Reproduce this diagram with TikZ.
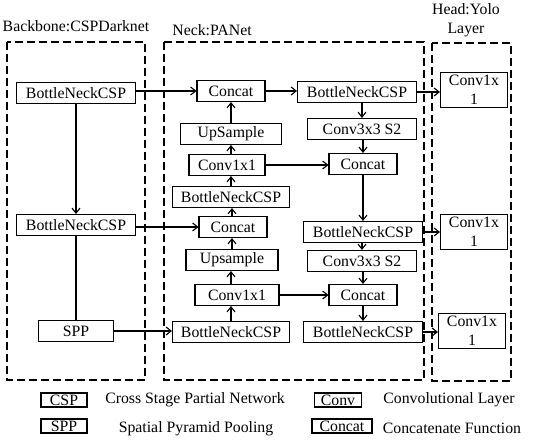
\documentclass[tikz,border=0pt]{standalone}
\usepackage{fontspec}
\setmainfont{Liberation Serif}
\usetikzlibrary{arrows.meta}
\def\blkh{21}
\def\lgh{14}

\begin{document}
\begin{tikzpicture}[x=1pt, y=-1pt, line width=1.1pt,
		font=\fontsize{15.8}{19}\selectfont,
		blk/.style={draw, inner sep=0pt, minimum height=\blkh pt},
		hd/.style={draw, inner sep=0pt, minimum width=67pt, minimum height=35pt, align=center},
		lg/.style={draw, inner sep=0pt, minimum height=\lgh pt},
		frame/.style={dash pattern=on 8pt off 4pt},
		arr/.style={-{Straight Barb[length=5pt,width=8pt]}}]
	\useasboundingbox (0,0) rectangle (550,446);
	% dashed frames and titles
	\draw[frame] (7,42) rectangle (145,380);
	\draw[frame] (164,42) rectangle (424,380);
	\draw[frame] (432,43) rectangle (511,381);
	\node (tb) at (76,26) {Backbone:CSPDarknet};
	\node (tn) at (212,30) {Neck:PANet};
	\node[align=center] (th) at (466,20) {Head:Yolo\\Layer};
	% backbone
	\node[blk, minimum width=119pt] (bb1) at (76,93) {BottleNeckCSP};
	\node[blk, minimum width=119pt] (bb2) at (76,225) {BottleNeckCSP};
	\node[blk, minimum width=75pt] (spp) at (76,331) {SPP};
	% neck, left column
	\node[blk, minimum width=68pt] (c1) at (231,91) {Concat};
	\node[blk, minimum width=101pt] (up1) at (231,134) {UpSample};
	\node[blk, minimum width=76pt] (cv1) at (227,165) {Conv1x1};
	\node[blk, minimum width=117pt] (nb1) at (231,197) {BottleNeckCSP};
	\node[blk, minimum width=68pt] (c2) at (233,227) {Concat};
	\node[blk, minimum width=92pt] (up2) at (232,260) {Upsample};
	\node[blk, minimum width=84pt] (cv2) at (237,295) {Conv1x1};
	\node[blk, minimum width=117pt] (nb2) at (231,332) {BottleNeckCSP};
	% neck, right column
	\node[blk, minimum width=119pt] (nr1) at (357,92) {BottleNeckCSP};
	\node[blk, minimum width=109pt] (s1) at (362,129) {Conv3x3 S2};
	\node[blk, minimum width=68pt] (cr1) at (363,164) {Concat};
	\node[blk, minimum width=119pt] (nr2) at (363,232) {BottleNeckCSP};
	\node[blk, minimum width=109pt] (s2) at (362,261) {Conv3x3 S2};
	\node[blk, minimum width=68pt] (cr2) at (363,295) {Concat};
	\node[blk, minimum width=119pt] (nr3) at (363,332) {BottleNeckCSP};
	% head
	\node[hd] (h1) at (474,90) {Conv1x\\1};
	\node[hd] (h2) at (474,232) {Conv1x\\1};
	\node[hd] (h3) at (472,331) {Conv1x\\1};
	% backbone links
	\draw[arr] (bb1) -- (bb2);
	\draw (bb2) -- (spp);
	\draw[arr] (bb1.east |- c1) -- (c1.west);
	\draw[arr] (bb2.east |- c2) -- (c2.west);
	\draw[arr] (spp.east) -- (spp.east -| nb2.west);
	% neck, upwards
	\draw[arr] (nb2.north) -- (nb2.north |- cv2.south);
	\draw[arr] (nb2.north |- cv2.north) -- (nb2.north |- up2.south);
	\draw[arr] (up2.north) -- (up2.north |- c2.south);
	\draw[arr] (up2.north |- c2.north) -- (up2.north |- nb1.south);
	\draw[arr] (nb1.north) -- (nb1.north |- cv1.south);
	\draw[arr] (nb1.north |- cv1.north) -- (nb1.north |- up1.south);
	\draw[arr] (up1.north) -- (c1.south);
	% neck, across and downwards
	\draw[arr] (c1.east) -- (c1.east -| nr1.west);
	\draw[arr] (cv1.east) -- (cv1.east -| cr1.west);
	\draw[arr] (cv2.east) -- (cv2.east -| cr2.west);
	\draw[arr] (s1 |- nr1.south) -- (s1.north);
	\draw[arr] (s1.south -| cr1) -- (cr1.north);
	\draw[arr] (cr1.south) -- (nr2.north);
	\draw[arr] (s2 |- nr2.south) -- (s2.north);
	\draw[arr] (s2.south -| cr2) -- (cr2.north);
	\draw[arr] (cr2.south) -- (nr3.north);
	% to head
	\draw[arr] (nr1.east) -- (nr1.east -| h1.west);
	\draw[arr] (nr2.east) -- (nr2.east -| h2.west);
	\draw[arr] (nr3.east) -- (nr3.east -| h3.west);
	% legend
	\node[lg, minimum width=46pt] (lg1) at (64,400) {CSP};
	\node[lg, minimum width=46pt] (lg2) at (64,426) {SPP};
	\node[lg, minimum width=47pt] (lg3) at (338,400) {Conv};
	\node[lg, minimum width=60pt] (lg4) at (342,426) {Concat};
	\node (lt1) at (195,400) {Cross Stage Partial Network};
	\node (lt2) at (196,429) {Spatial Pyramid Pooling};
	\node (lt3) at (449,400) {Convolutional Layer};
	\node (lt4) at (452,428) {Concatenate Function};
\end{tikzpicture}
\end{document}
